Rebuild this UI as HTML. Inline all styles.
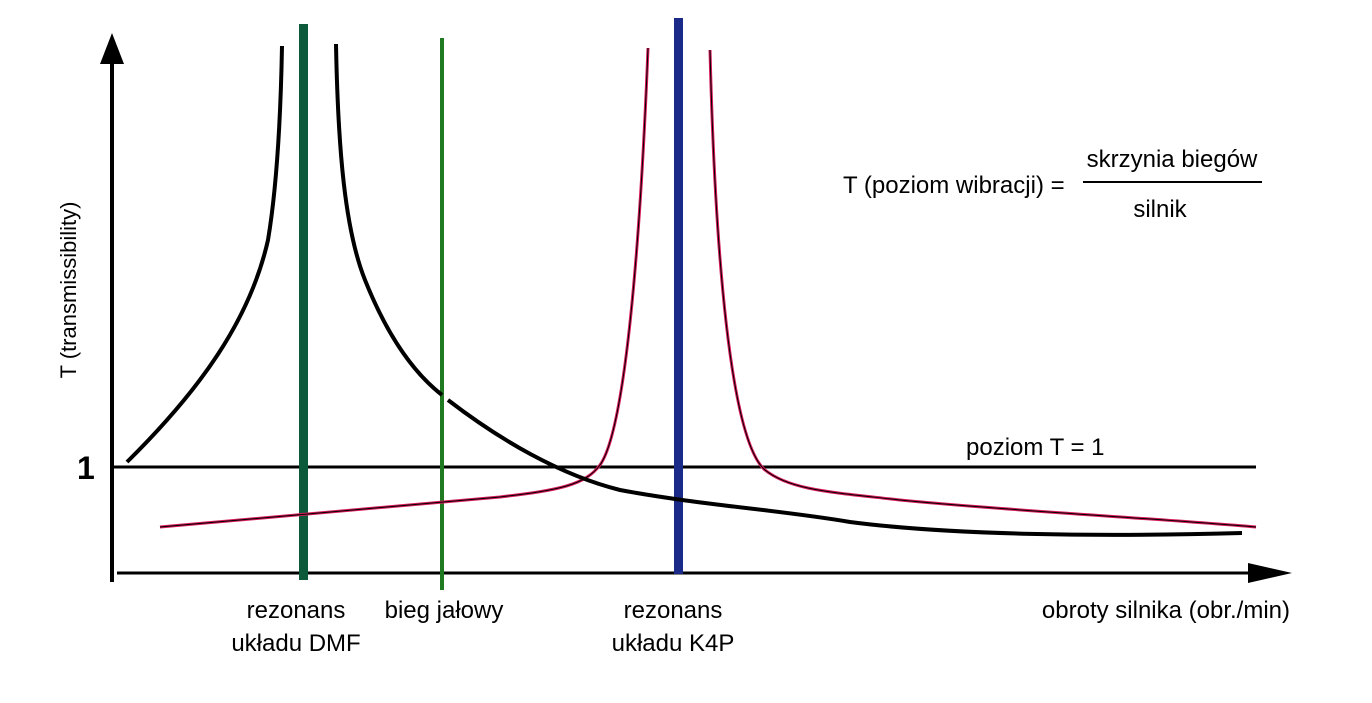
<!DOCTYPE html>
<html><head><meta charset="utf-8"><style>
html,body{margin:0;padding:0;background:#fff;}
svg{display:block;}
text{font-family:"Liberation Sans Narrow","Liberation Sans",sans-serif;fill:#000;}
</style></head><body>
<svg width="1372" height="703" viewBox="0 0 1372 703" xmlns="http://www.w3.org/2000/svg">
<line x1="112" y1="60" x2="112" y2="582" stroke="#000" stroke-width="4"/>
<polygon points="112,33 100,64 124,64" fill="#000"/>
<line x1="117" y1="573" x2="1255" y2="573" stroke="#000" stroke-width="3"/>
<polygon points="1292,573 1248,563 1248,583" fill="#000"/>
<line x1="112" y1="467" x2="1256" y2="467" stroke="#000" stroke-width="3"/>
<rect x="299" y="24" width="9" height="556" fill="#0d5a3a"/>
<rect x="440" y="38" width="4" height="552" fill="#1f7a22"/>
<rect x="674" y="18" width="9" height="556" fill="#1a2a88"/>
<path d="M160,527 C300,515 420,505 500,497 C560,490 585,485 600,465 C625,430 640,250 648,48" fill="none" stroke="#d81b5a" stroke-width="3"/>
<path d="M710,50 C715,250 730,440 765,470 C790,490 830,492 900,500 C1000,510 1150,518 1256,527" fill="none" stroke="#d81b5a" stroke-width="3"/>
<path d="M160,527 C300,515 420,505 500,497 C560,490 585,485 600,465 C625,430 640,250 648,48" fill="none" stroke="#000" stroke-width="1"/>
<path d="M710,50 C715,250 730,440 765,470 C790,490 830,492 900,500 C1000,510 1150,518 1256,527" fill="none" stroke="#000" stroke-width="1"/>
<path d="M127,462 C200,390 250,320 268,240 C278,180 281,100 282,46" fill="none" stroke="#000" stroke-width="4"/>
<path d="M336,44 C338,150 345,230 365,280 C385,330 410,370 442,395" fill="none" stroke="#000" stroke-width="4"/>
<path d="M448,400 C500,440 560,475 620,490 C700,505 780,510 850,522 C950,535 1100,537 1242,533" fill="none" stroke="#000" stroke-width="4"/>
<text x="77" y="479" font-size="32" font-weight="bold" font-family="Liberation Sans, sans-serif">1</text>
<text transform="translate(76,290) rotate(-90)" text-anchor="middle" font-size="22">T (transmissibility)</text>
<text x="843" y="193" font-size="24">T (poziom wibracji) =</text>
<text x="1172" y="167" font-size="24" text-anchor="middle">skrzynia biegów</text>
<line x1="1083" y1="182" x2="1262" y2="182" stroke="#000" stroke-width="2"/>
<text x="1160" y="217" font-size="24" text-anchor="middle">silnik</text>
<text x="966" y="455" font-size="24">poziom T = 1</text>
<text x="296" y="618" font-size="24" text-anchor="middle">rezonans</text>
<text x="296" y="651" font-size="24" text-anchor="middle">układu DMF</text>
<text x="444" y="618" font-size="24" text-anchor="middle">bieg jałowy</text>
<text x="673" y="618" font-size="24" text-anchor="middle">rezonans</text>
<text x="673" y="651" font-size="24" text-anchor="middle">układu K4P</text>
<text x="1290" y="618" font-size="24" text-anchor="end">obroty silnika (obr./min)</text>
</svg>
</body></html>
